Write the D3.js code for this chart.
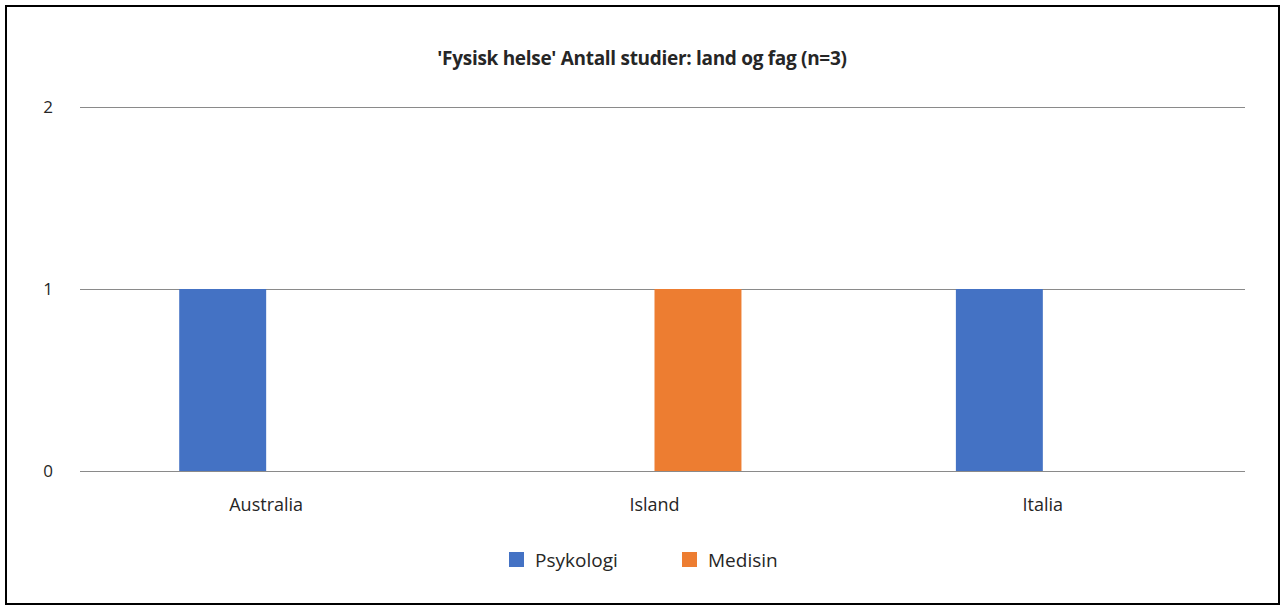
<!DOCTYPE html>
<html>
<head>
<meta charset="utf-8">
<script src="https://cdn.jsdelivr.net/npm/d3@7"></script>
<style>
  html, body { margin: 0; padding: 0; background: #fff; }
  svg { display: block; }
  text { font-family: "Open Sans", "Noto Sans", sans-serif; fill: #262626; }
</style>
</head>
<body>
<svg id="chart" width="1281" height="606"></svg>
<script>
const title = "'Fysisk helse' Antall studier: land og fag (n=3)";
const categories = ["Australia", "Island", "Italia"];
const seriesNames = ["Psykologi", "Medisin"];
const psykologi = [1, 0, 1];
const medisin = [0, 1, 0];
const yTicks = [0, 1, 2];
const colors = ["#4472C4", "#ED7D31"];

const seriesValues = [psykologi, medisin];
const svg = d3.select("#chart");

// frame
svg.append("rect").attr("x", 6).attr("y", 6).attr("width", 1273).attr("height", 598)
  .attr("fill", "none").attr("stroke", "#000").attr("stroke-width", 2);

const plotLeft = 80, plotRight = 1245;
const y = d3.scaleLinear().domain([0, 2]).range([471, 107]);
const x = d3.scaleBand().domain(categories).range([72, 1237]).paddingInner(0).paddingOuter(0);
const x1 = d3.scaleBand().domain(seriesNames).range([0, x.bandwidth()]).paddingInner(0).paddingOuter(1.233);
const color = d3.scaleOrdinal().domain(seriesNames).range(colors);

// title
svg.append("text").attr("x", 642).attr("y", 65).attr("text-anchor", "middle")
  .style("font-weight", "bold").style("font-size", "19px").style("letter-spacing", "-0.3px")
  .text(title);

// gridlines
svg.append("g").selectAll("line").data(yTicks).join("line")
  .attr("x1", plotLeft).attr("x2", plotRight)
  .attr("y1", d => Math.round(y(d)) + 0.5).attr("y2", d => Math.round(y(d)) + 0.5)
  .attr("stroke", "#8a8a8a").attr("stroke-width", 1);

// y tick labels
svg.append("g").selectAll("text").data(yTicks).join("text")
  .attr("x", 48).attr("y", d => y(d)).attr("dy", "0.35em").attr("text-anchor", "middle")
  .style("font-size", "17px").text(d => d);

// bars
const rows = categories.map((c, i) => ({ c, vals: seriesNames.map((s, j) => ({ s, v: seriesValues[j][i] })) }));
const groups = svg.append("g").selectAll("g").data(rows).join("g")
  .attr("transform", d => `translate(${x(d.c)},0)`);
groups.selectAll("rect").data(d => d.vals.filter(e => e.v > 0)).join("rect")
  .attr("x", d => x1(d.s)).attr("width", x1.bandwidth())
  .attr("y", d => y(d.v)).attr("height", d => y(0) - y(d.v))
  .attr("fill", d => color(d.s));

// redraw baseline over bars
svg.append("line").attr("x1", plotLeft).attr("x2", plotRight)
  .attr("y1", Math.round(y(0)) + 0.5).attr("y2", Math.round(y(0)) + 0.5)
  .attr("stroke", "#8a8a8a").attr("stroke-width", 1);

// category labels
svg.append("g").selectAll("text").data(categories).join("text")
  .attr("x", d => x(d) + x.bandwidth() / 2).attr("y", 511).attr("text-anchor", "middle")
  .style("font-size", "18px").text(d => d);

// legend
const legendX = [509, 682];
const lg = svg.append("g").selectAll("g").data(seriesNames).join("g")
  .attr("transform", (d, i) => `translate(${legendX[i]},552)`);
lg.append("rect").attr("width", 15).attr("height", 15).attr("fill", d => color(d));
lg.append("text").attr("x", 26).attr("y", 8).attr("dy", "0.35em")
  .style("font-size", "19px").text(d => d);
</script>
</body>
</html>
